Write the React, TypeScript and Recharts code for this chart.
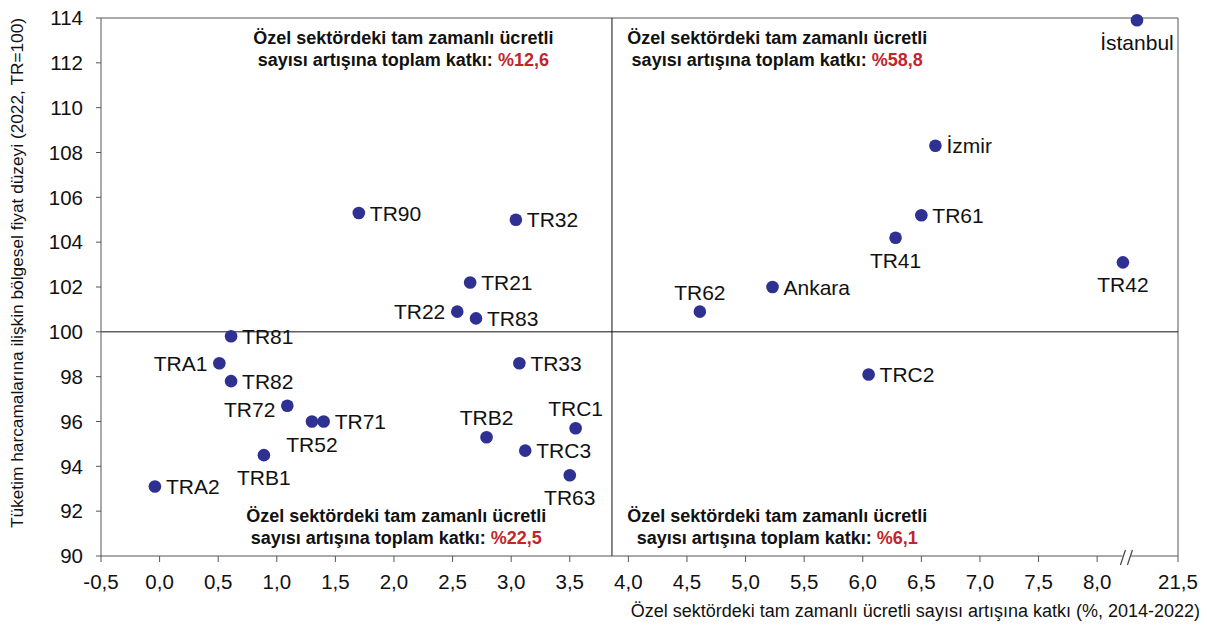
import React from 'react';
import { ScatterChart, Scatter, XAxis, YAxis, ReferenceLine, ReferenceDot } from 'recharts';

// regions, in reading order of the picture
const regions = [
  'İstanbul', 'İzmir', 'TR61', 'TR41', 'TR42', 'Ankara', 'TR62', 'TRC2',
  'TR90', 'TR32', 'TR21', 'TR22', 'TR83', 'TR81', 'TRA1', 'TR82', 'TR33',
  'TR72', 'TR52', 'TR71', 'TRB2', 'TRC1', 'TRC3', 'TRB1', 'TR63', 'TRA2',
];
// contribution to private full-time employee growth (%, 2014-2022)
const contribution = [
  20.8, 6.62, 6.5, 6.28, 8.22, 5.23, 4.61, 6.05,
  1.7, 3.04, 2.65, 2.54, 2.7, 0.61, 0.51, 0.61, 3.07,
  1.09, 1.3, 1.4, 2.79, 3.55, 3.12, 0.89, 3.5, -0.04,
];
// regional price level (2022, TR=100)
const priceLevel = [
  113.9, 108.3, 105.2, 104.2, 103.1, 102.0, 100.9, 98.1,
  105.3, 105.0, 102.2, 100.9, 100.6, 99.8, 98.6, 97.8, 98.6,
  96.7, 96.0, 96.0, 95.3, 95.7, 94.7, 94.5, 93.6, 93.1,
];

const xTicksReal = [-0.5, 0, 0.5, 1, 1.5, 2, 2.5, 3, 3.5, 4, 4.5, 5, 5.5, 6, 6.5, 7, 7.5, 8, 21.5];
const yTicks = [90, 92, 94, 96, 98, 100, 102, 104, 106, 108, 110, 112, 114];

const quadrantShares = ['%12,6', '%58,8', '%22,5', '%6,1'];
const xDivider = 3.86;
const yDivider = 100;

// broken x axis: everything past the break is squeezed into the last segment
const BREAK_AT = 8.25;
const AXIS_END = 8.69;
const toAxis = (v: number) => (v > BREAK_AT ? AXIS_END - (21.5 - v) * 0.5 : v);

const data = regions.map((name, i) => ({ name, x: toAxis(contribution[i]), y: priceLevel[i] }));
const xTicks = xTicksReal.map(toAxis);
const fmtX = (v: number) => {
  const i = xTicks.indexOf(v);
  const real = i >= 0 ? xTicksReal[i] : v;
  return real.toFixed(1).replace('.', ',');
};

const labelSide: Record<string, string> = {
  'İstanbul': 'below', 'İzmir': 'right', TR61: 'right', TR41: 'below', TR42: 'below',
  Ankara: 'right', TR62: 'above', TRC2: 'right', TR90: 'right', TR32: 'right',
  TR21: 'right', TR22: 'left', TR83: 'right', TR81: 'right', TRA1: 'left', TR82: 'right',
  TR33: 'right', TR72: 'leftlow', TR52: 'below', TR71: 'right', TRB2: 'above',
  TRC1: 'above', TRC3: 'right', TRB1: 'below', TR63: 'below', TRA2: 'right',
};

const DOT = '#2e3192';
const RED = '#c0262d';
const FONT = '"Liberation Sans", Arial, Helvetica, sans-serif';

const RegionDot = (p: any) => {
  const { cx, cy } = p;
  const name = p.payload?.name ?? p.name;
  const side = labelSide[name] || 'right';
  let tx = cx + 11;
  let ty = cy + 7.5;
  let anchor: 'start' | 'middle' | 'end' = 'start';
  if (side === 'left') { tx = cx - 12; anchor = 'end'; }
  if (side === 'leftlow') { tx = cx - 12; ty = cy + 11.5; anchor = 'end'; }
  if (side === 'below') { tx = cx; ty = cy + 30; anchor = 'middle'; }
  if (side === 'above') { tx = cx; ty = cy - 12; anchor = 'middle'; }
  return (
    <g>
      <circle cx={cx} cy={cy} r={6.3} fill={DOT} />
      <text x={tx} y={ty} textAnchor={anchor} fontSize={21} fill="#111">{name}</text>
    </g>
  );
};

const quadNote = (share: string, top: boolean) => (p: any) => {
  const { cx, cy } = p;
  const y1 = top ? cy + 4 : cy - 12;
  return (
    <text textAnchor="middle" fontSize={18} fontWeight="bold" fill="#111">
      <tspan x={cx} y={y1}>Özel sektördeki tam zamanlı ücretli</tspan>
      <tspan x={cx} y={y1 + 22}>sayısı artışına toplam katkı: <tspan fill={RED}>{share}</tspan></tspan>
    </text>
  );
};

const AxisBreak = (p: any) => {
  const { cx, cy } = p;
  return (
    <g>
      <rect x={cx - 4} y={cy - 2} width={8} height={4} fill="#fff" />
      <line x1={cx - 6} y1={cy + 9} x2={cx - 1} y2={cy - 6} stroke="#444" strokeWidth={1.2} />
      <line x1={cx + 1} y1={cy + 9} x2={cx + 6} y2={cy - 6} stroke="#444" strokeWidth={1.2} />
    </g>
  );
};

export default function App() {
  return (
    <div style={{ position: 'relative', width: 1207, height: 642, margin: -8, fontFamily: FONT, background: '#fff' }}>
      <ScatterChart width={1207} height={642} margin={{ top: 18, right: 29, bottom: 0, left: 1 }}>
        <XAxis
          type="number"
          dataKey="x"
          domain={[-0.5, AXIS_END]}
          ticks={xTicks}
          interval={0}
          tickFormatter={fmtX}
          height={86}
          tickSize={6}
          tickMargin={12}
          stroke="#555"
          tick={{ fontSize: 20.5, fill: '#111' }}
        />
        <YAxis
          type="number"
          dataKey="y"
          domain={[90, 114]}
          ticks={yTicks}
          interval={0}
          width={100}
          tickSize={5}
          tickMargin={13}
          stroke="#555"
          tick={{ fontSize: 20.5, fill: '#111' }}
        />
        <ReferenceLine y={114} stroke="#555" />
        <ReferenceLine x={AXIS_END} stroke="#555" />
        <ReferenceLine x={xDivider} stroke="#111" />
        <ReferenceLine y={yDivider} stroke="#111" />
        <ReferenceDot x={2.08} y={113} r={0} ifOverflow="visible" shape={quadNote(quadrantShares[0], true)} />
        <ReferenceDot x={5.27} y={113} r={0} ifOverflow="visible" shape={quadNote(quadrantShares[1], true)} />
        <ReferenceDot x={2.02} y={91} r={0} ifOverflow="visible" shape={quadNote(quadrantShares[2], false)} />
        <ReferenceDot x={5.27} y={91} r={0} ifOverflow="visible" shape={quadNote(quadrantShares[3], false)} />
        <ReferenceDot x={BREAK_AT} y={90} r={0} ifOverflow="visible" shape={AxisBreak} />
        <Scatter data={data} fill={DOT} shape={RegionDot} isAnimationActive={false} />
      </ScatterChart>
      <div style={{ position: 'absolute', right: 7, top: 601, fontSize: 18, color: '#111', whiteSpace: 'nowrap' }}>
        Özel sektördeki tam zamanlı ücretli sayısı artışına katkı (%, 2014-2022)
      </div>
      <div
        style={{
          position: 'absolute', left: 17, top: 273, fontSize: 17.3, color: '#111', whiteSpace: 'nowrap',
          transform: 'translate(-50%, -50%) rotate(-90deg)',
        }}
      >
        Tüketim harcamalarına ilişkin bölgesel fiyat düzeyi (2022, TR=100)
      </div>
    </div>
  );
}
